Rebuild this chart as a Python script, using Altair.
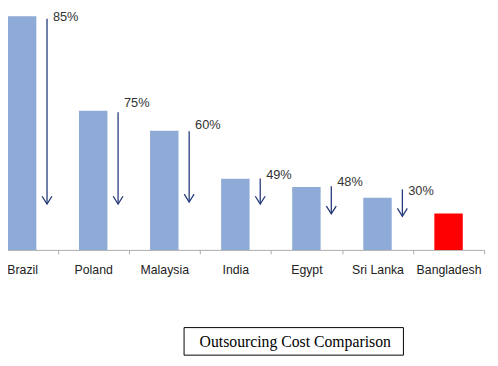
import altair as alt
import pandas as pd

countries = ["Brazil", "Poland", "Malaysia", "India", "Egypt", "Sri Lanka", "Bangladesh"]
cost = [100, 59.6, 51.0, 30.5, 26.9, 22.3, 15.6]
group = ["other", "other", "other", "other", "other", "other", "Bangladesh"]

arrow_countries = ["Brazil", "Poland", "Malaysia", "India", "Egypt", "Sri Lanka"]
arrow_top = [98.9, 58.9, 50.8, 30.6, 27.2, 25.9]
arrow_bottom = [19.6, 19.6, 20.5, 19.6, 15.4, 14.4]
labels = ["85%", "75%", "60%", "49%", "48%", "30%"]
label_y = [99.6, 62.9, 53.4, 32.1, 28.9, 25.3]

caption = ["Outsourcing Cost Comparison"]

bars_df = pd.DataFrame({"country": countries, "cost": cost, "group": group})
arrows_df = pd.DataFrame({"country": arrow_countries, "top": arrow_top,
                          "bottom": arrow_bottom, "label": labels, "label_y": label_y})
cap_df = pd.DataFrame({"caption": caption})

xscale = alt.Scale(domain=countries, range=[-21.75, 484], paddingInner=0, paddingOuter=0, round=False)
yscale = alt.Scale(domain=[0, 98.95], nice=False, zero=True)

bars = alt.Chart(bars_df).mark_bar(width=alt.RelativeBandSize(0.4)).encode(
    x=alt.X("country:N", scale=xscale, sort=countries, title=None),
    y=alt.Y("cost:Q", scale=yscale, axis=None),
    color=alt.Color("group:N", scale=alt.Scale(domain=["other", "Bangladesh"],
                                               range=["#8eaad6", "#ff0000"]), legend=None),
)

rules = alt.Chart(arrows_df).mark_rule(color="#23397a", strokeWidth=1.3).encode(
    x=alt.X("country:N", scale=xscale, sort=countries, bandPosition=0.85, title=None),
    y=alt.Y("top:Q", scale=yscale, axis=None),
    y2="bottom:Q",
)

heads = alt.Chart(arrows_df).mark_point(
    shape="M-1,-1.6L0,0L1,-1.6", size=100, filled=False, color="#23397a", strokeWidth=1.3, opacity=1
).encode(
    x=alt.X("country:N", scale=xscale, sort=countries, bandPosition=0.85, title=None),
    y=alt.Y("bottom:Q", scale=yscale, axis=None),
)

texts = alt.Chart(arrows_df).mark_text(
    align="left", baseline="middle", dx=6, fontSize=13, font="Liberation Sans", color="#333333"
).encode(
    x=alt.X("country:N", scale=xscale, sort=countries, bandPosition=0.85, title=None),
    y=alt.Y("label_y:Q", scale=yscale, axis=None),
    text="label:N",
)

box = alt.Chart(cap_df).mark_rect(fill="white", stroke="black", strokeWidth=1).encode(
    x=alt.value(179), x2=alt.value(402), y=alt.value(314), y2=alt.value(342)
)

cap = alt.Chart(cap_df).mark_text(
    font="Liberation Serif", fontSize=16, color="black", align="center", baseline="middle"
).encode(
    x=alt.value(292), y=alt.value(328.5), text="caption:N"
)

chart = alt.layer(bars, rules, heads, texts, box, cap).properties(
    width=490, height=235,
    autosize=alt.AutoSizeParams(type="none"),
    padding={"left": 0, "top": 8, "right": 0, "bottom": 107},
).configure_view(stroke=None).configure_axisX(
    labelAngle=0, labelFont="Liberation Sans", labelFontSize=12.5, labelColor="#222222",
    labelPadding=10, tickSize=4, tickColor="#aaaaaa", domainColor="#aaaaaa",
    tickBand="extent", grid=False,
)

chart.save("out.html", embed_options={"renderer": "svg", "actions": False})
